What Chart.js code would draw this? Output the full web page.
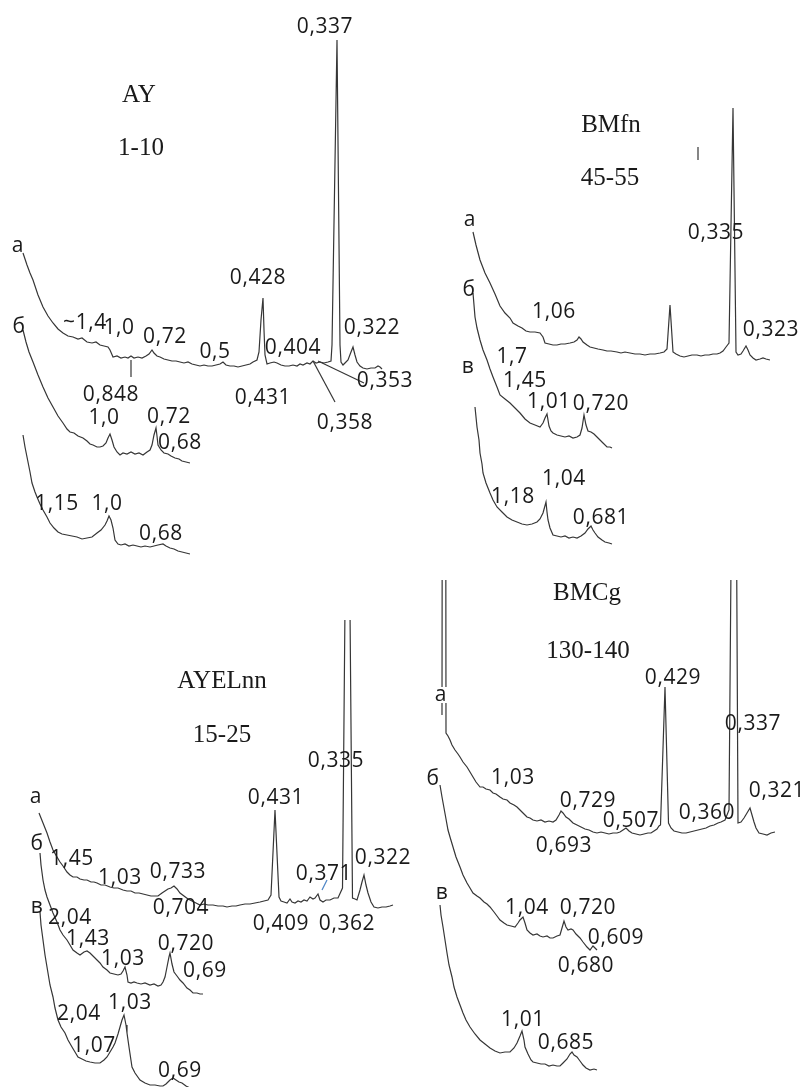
<!DOCTYPE html>
<html><head><meta charset="utf-8">
<script src="https://cdn.jsdelivr.net/npm/chart.js@4.4.1/dist/chart.umd.min.js"></script>
<style>
html,body{margin:0;padding:0;background:#fff;}
#wrap{position:relative;width:812px;height:1087px;overflow:hidden;background:#fff;}
#wrap canvas{position:absolute;}
</style>
</head><body><div id="wrap"></div>
<script>
// ===== DATA: [position, intensity above trace baseline] =====
// AY 1-10
const AY_a = [[23,115],[27,103],[30,95],[33,88],[38,73],[43,61],[48,52],[53,45],[58,39],[63,35],[68,32],[73,31],[78,29],[82,30],[87,26],[92,25],[96,26],[100,23],[104,22],[108,21],[110,18],[113,11],[117,12],[121,10],[125,11],[128,10],[131,12],[134,10],[138,11],[142,10],[146,12],[149,14],[152,18],[154,15],[157,12],[160,11],[164,9],[168,8],[172,7],[176,7],[180,6],[184,5],[188,6],[192,4],[196,3],[200,2],[204,3],[208,2],[212,2],[216,3],[220,4],[223,6],[226,3],[230,2],[234,2],[238,1],[242,2],[246,3],[250,4],[253,6],[257,8],[259,16],[261,48],[263,70],[264,38],[265,13],[267,4],[270,5],[274,6],[277,5],[281,3],[285,2],[289,2],[293,3],[297,2],[300,4],[303,3],[307,5],[310,4],[313,7],[316,5],[320,6],[324,5],[328,6],[331,7],[332,23],[337,328],[340,23],[341,6],[343,3],[345,5],[348,8],[351,16],[353,21],[355,13],[357,6],[360,2],[363,0],[367,-1],[371,0],[375,0],[378,2],[380,1],[382,-1]];
const AY_b = [[23,133],[26,121],[29,111],[33,101],[38,88],[43,76],[48,65],[53,56],[58,47],[63,40],[67,34],[70,31],[74,30],[78,27],[83,25],[87,22],[90,19],[93,18],[97,16],[100,16],[103,17],[106,20],[108,25],[110,29],[112,23],[114,16],[117,11],[120,8],[123,10],[127,9],[131,11],[135,9],[139,10],[143,8],[147,11],[150,13],[152,18],[154,28],[156,35],[157,27],[158,18],[161,13],[164,10],[168,9],[171,7],[175,5],[179,4],[182,2],[186,1],[190,0]];
const AY_v = [[23,119],[25,107],[27,97],[30,82],[32,71],[35,62],[37,57],[40,50],[43,44],[47,37],[50,31],[54,26],[58,22],[62,20],[67,19],[72,18],[77,17],[82,15],[87,16],[92,17],[97,21],[101,24],[105,29],[107,33],[109,38],[111,34],[113,26],[115,14],[118,10],[121,9],[125,10],[129,8],[133,9],[137,8],[141,7],[145,8],[150,7],[154,8],[158,9],[163,10],[166,8],[170,6],[174,5],[178,3],[182,2],[186,1],[190,0]];
// BMfn 45-55
const BMfn_a = [[473,126],[476,113],[480,98],[485,85],[490,75],[495,64],[500,52],[505,45],[510,40],[513,35],[518,32],[522,30],[526,27],[530,26],[535,26],[540,25],[543,21],[545,15],[549,14],[553,13],[557,13],[561,14],[565,14],[570,15],[574,16],[577,18],[579,21],[581,19],[583,16],[587,13],[590,11],[594,10],[598,9],[603,8],[607,7],[611,7],[617,6],[621,5],[625,6],[630,5],[635,4],[640,4],[645,3],[650,4],[655,4],[660,5],[664,6],[667,9],[670,53],[673,6],[676,4],[680,2],[684,1],[688,2],[692,3],[697,3],[701,2],[705,3],[709,3],[713,4],[717,4],[720,5],[723,7],[726,11],[729,15],[733,250],[736,6],[738,3],[741,4],[743,7],[746,12],[748,8],[750,3],[753,0],[756,-2],[760,-1],[763,0],[766,-1],[770,-2]];
const BMfn_b = [[473,155],[474,143],[475,131],[477,120],[480,108],[483,98],[487,88],[490,79],[493,71],[497,61],[500,53],[505,49],[510,45],[515,40],[520,35],[525,29],[530,25],[535,23],[540,21],[543,25],[545,30],[547,34],[549,22],[551,17],[553,15],[557,13],[561,12],[565,11],[569,12],[573,10],[577,11],[580,13],[582,20],[584,33],[586,23],[588,17],[591,16],[594,14],[597,11],[600,8],[603,5],[607,1],[610,1],[612,0]];
const BMfn_v = [[475,137],[476,127],[477,117],[479,104],[480,91],[482,80],[483,71],[486,61],[490,51],[493,44],[497,37],[502,32],[507,27],[512,24],[517,22],[522,20],[527,19],[532,20],[537,22],[540,25],[543,31],[546,42],[547,32],[548,24],[550,16],[553,9],[557,8],[561,7],[565,8],[569,6],[573,7],[577,6],[581,8],[585,11],[588,15],[591,18],[593,14],[595,11],[598,7],[602,4],[605,2],[609,1],[612,0]];
// AYELnn 15-25
const AYEL_a = [[39,94],[43,84],[47,74],[50,65],[53,57],[57,50],[60,45],[63,41],[67,35],[70,32],[73,30],[77,30],[80,28],[84,27],[87,27],[91,25],[94,25],[97,24],[101,22],[105,22],[110,20],[114,19],[118,19],[123,17],[127,16],[131,16],[135,14],[139,14],[143,13],[147,12],[151,11],[155,11],[158,11],[162,14],[165,16],[168,18],[171,19],[174,21],[177,18],[180,14],[184,11],[188,8],[192,6],[196,4],[200,2],[204,3],[208,2],[213,2],[218,1],[223,1],[227,0],[232,1],[236,1],[240,2],[245,3],[250,3],[255,4],[260,5],[264,6],[268,7],[271,12],[275,97],[279,10],[281,6],[284,5],[287,4],[290,8],[292,5],[295,4],[298,6],[301,5],[304,7],[307,6],[310,10],[313,8],[315,9],[318,13],[320,7],[323,5],[326,7],[330,7],[334,9],[338,9],[342.5,19],[347.5,585],[352.5,9],[355,8],[357,7],[360,17],[362,25],[364,32],[366,22],[368,14],[371,5],[374,0],[378,-1],[382,0],[386,0],[390,1],[393,2]];
const AYEL_b = [[40,141],[41,129],[43,114],[45,104],[47,97],[50,89],[53,81],[57,72],[60,64],[63,59],[67,54],[70,49],[73,44],[77,41],[80,39],[84,42],[87,43],[90,41],[94,37],[97,34],[100,31],[103,27],[107,24],[110,21],[114,20],[118,19],[121,20],[123,23],[125,27],[127,19],[128,12],[131,11],[134,12],[137,11],[141,10],[145,11],[150,9],[154,10],[158,8],[161,9],[163,12],[165,17],[167,27],[169,37],[170,41],[172,30],[174,22],[177,18],[180,14],[183,11],[187,6],[190,4],[193,1],[197,1],[200,0],[203,0]];
const AYEL_v = [[40,175],[41,162],[43,147],[45,132],[48,114],[50,102],[53,90],[55,79],[58,67],[61,60],[65,54],[68,47],[72,40],[75,35],[78,30],[82,28],[86,26],[90,25],[95,24],[100,24],[104,27],[107,30],[110,35],[113,40],[115,44],[118,53],[120,60],[122,67],[124,72],[126,62],[127,54],[129,40],[132,20],[135,14],[140,7],[145,4],[150,2],[155,2],[160,1],[163,1],[166,3],[170,7],[173,9],[176,7],[179,5],[182,4],[186,1],[190,-1]];
// BMCg 130-140
const BMCg_a = [[442,120],[444,2000],[446,102],[448,99],[450,95],[452,90],[455,85],[458,81],[460,78],[463,73],[467,68],[470,63],[473,58],[476,53],[480,48],[483,48],[486,46],[490,45],[493,42],[496,41],[500,38],[503,36],[507,35],[510,32],[514,30],[517,28],[520,25],[523,22],[527,18],[530,17],[533,15],[537,14],[541,15],[545,13],[549,14],[553,13],[556,15],[559,20],[561,24],[563,22],[566,18],[569,16],[573,12],[577,10],[581,8],[585,6],[589,5],[593,3],[597,2],[601,3],[605,2],[609,1],[613,2],[617,2],[620,3],[623,5],[626,7],[629,4],[632,2],[636,1],[640,0],[644,1],[648,2],[651,2],[654,4],[657,6],[659,9],[660.5,10],[665,148],[668.5,12],[671,7],[674,4],[678,3],[682,2],[686,2],[690,3],[694,4],[698,5],[702,6],[706,7],[710,9],[714,10],[718,12],[721,13],[725,15],[729,25],[734.5,700],[738,12],[741,13],[744,17],[747,22],[750,27],[752,20],[754,13],[756,7],[759,2],[763,1],[767,0],[771,2],[775,3]];
const BMCg_b = [[440,165],[442,153],[444,142],[446,131],[448,120],[450,113],[453,103],[456,93],[460,83],[463,75],[467,67],[470,62],[473,57],[477,54],[480,52],[484,48],[487,46],[490,43],[494,38],[497,34],[500,30],[504,27],[507,25],[511,24],[515,23],[518,27],[520,30],[523,33],[525,27],[527,20],[530,17],[533,15],[537,16],[540,14],[543,13],[547,14],[550,12],[553,12],[557,14],[560,15],[562,22],[564,29],[566,23],[568,20],[571,21],[573,20],[576,16],[580,12],[583,8],[587,3],[590,0],[593,4],[595,2],[597,0]];
const BMCg_v = [[440,165],[441,155],[443,143],[445,130],[447,117],[449,105],[452,93],[454,83],[457,73],[460,65],[463,57],[466,50],[470,43],[475,36],[480,30],[485,26],[490,22],[495,19],[500,17],[505,18],[510,18],[514,22],[517,27],[520,34],[522,39],[524,30],[525,23],[528,16],[531,10],[533,8],[537,7],[541,6],[545,6],[549,4],[553,5],[557,4],[560,4],[563,7],[567,11],[570,16],[572,18],[574,15],[577,13],[580,9],[583,5],[586,2],[590,0],[594,1],[597,0]];

// ===== TEXT (peak labels: [text, x, y]) =====
const AY_titles = [["AY",139,102],["1-10",141,155]];
const AY_labels = [["0,337",325,25],["а",18,246],["б",19,325],["~1,4",85,321],["1,0",119,326],["0,72",165,335],["0,5",215,350],["0,428",258,276],["0,404",293,346],["0,322",372,326],["0,848",111,393],["0,431",263,396],["0,358",345,421],["0,353",385,379],["1,0",104,416],["0,72",169,415],["0,68",180,441],["1,15",57,502],["1,0",107,502],["0,68",161,532]];
const BMfn_titles = [["BMfn",611,132],["45-55",610,185]];
const BMfn_labels = [["а",470,220],["0,335",716,231],["б",469,288],["1,06",554,310],["0,323",771,328],["1,7",512,355],["в",468,367],["1,45",525,379],["1,01",549,400],["0,720",601,402],["1,04",564,477],["1,18",513,495],["0,681",601,516]];
const AYEL_titles = [["AYELnn",222,688],["15-25",222,742]];
const AYEL_labels = [["0,335",336,759],["0,431",276,796],["а",36,797],["б",37,842],["1,45",72,857],["1,03",120,876],["0,733",178,870],["0,704",181,906],["0,409",281,922],["0,362",347,922],["0,371",324,872],["0,322",383,856],["в",37,907],["2,04",70,916],["1,43",88,937],["1,03",123,957],["0,720",186,942],["0,69",205,969],["2,04",79,1012],["1,03",130,1001],["1,07",94,1044],["0,69",180,1069]];
const BMCg_titles = [["BMCg",587,600],["130-140",588,658]];
const BMCg_labels = [["0,429",673,676],["а",441,695],["0,337",753,722],["б",433,777],["1,03",513,776],["0,729",588,799],["0,321",777,789],["0,507",631,819],["0,360",707,811],["0,693",564,844],["в",442,893],["1,04",527,906],["0,720",588,906],["0,609",616,936],["0,680",586,964],["1,01",523,1018],["0,685",566,1041]];

// ===== LAYOUT =====
const LINE = '#363636', INK = '#1a1a1a';
const panels = [
  {box:[0,0,430,600], traces:[[AY_a,368],[AY_b,463],[AY_v,554]], titles:AY_titles, labels:AY_labels,
   leaders:[[[131,360],[131,377],LINE],[[313,361],[335,402],LINE],[[318,361],[364,383],LINE]], bgLabels:[]},
  {box:[430,0,382,580], traces:[[BMfn_a,358],[BMfn_b,448],[BMfn_v,544]], titles:BMfn_titles, labels:BMfn_labels,
   leaders:[[[698,147],[698,160],LINE]], bgLabels:[]},
  {box:[0,620,420,467], traces:[[AYEL_a,907],[AYEL_b,994],[AYEL_v,1087]], titles:AYEL_titles, labels:AYEL_labels,
   leaders:[[[322,890],[327,880],'#4f86c6']], bgLabels:[]},
  {box:[420,580,392,507], traces:[[BMCg_a,835],[BMCg_b,950],[BMCg_v,1070]], titles:BMCg_titles, labels:BMCg_labels,
   leaders:[], bgLabels:["а"]}
];

function makeTextPlugin(p){
  return {
    id:'panelText',
    afterDatasetsDraw(chart){
      const ctx = chart.ctx, xs = chart.scales.x, ys = chart.scales.y;
      ctx.save();
      ctx.fillStyle = INK;
      ctx.textAlign = 'center';
      ctx.textBaseline = 'alphabetic';
      ctx.font = '25px "Liberation Serif", "Times New Roman", serif';
      for (const [t,x,y] of p.titles) ctx.fillText(t, xs.getPixelForValue(x), ys.getPixelForValue(y));
      ctx.font = '21px "Open Sans", "Noto Sans", sans-serif';
      if ('letterSpacing' in ctx) ctx.letterSpacing = '0.6px';
      for (const [t,x,y] of p.labels) {
        const small = (t === 'а' || t === 'в');
        const px = xs.getPixelForValue(x), py = ys.getPixelForValue(y);
        if (p.bgLabels.includes(t)) {
          ctx.fillStyle = '#fff';
          ctx.fillRect(px-7, py-8, 14, 16);
          ctx.fillStyle = INK;
        }
        ctx.fillText(t, px, py + (small ? 5.7 : 7.5));
      }
      ctx.restore();
    }
  };
}

const wrap = document.getElementById('wrap');
panels.forEach(p => {
  const [left, top, w, h] = p.box;
  const cv = document.createElement('canvas');
  cv.width = w; cv.height = h;
  cv.style.left = left + 'px'; cv.style.top = top + 'px';
  cv.style.width = w + 'px'; cv.style.height = h + 'px';
  wrap.appendChild(cv);
  const datasets = p.traces.map(([pts, base]) => ({
    data: pts.map(([x, I]) => ({x: x, y: base - I})),
    showLine: true, borderColor: LINE, borderWidth: 1.2, pointRadius: 0, fill: false, tension: 0
  }));
  p.leaders.forEach(([a, b, col]) => datasets.push({
    data: [{x:a[0], y:a[1]}, {x:b[0], y:b[1]}],
    showLine: true, borderColor: col, borderWidth: 1.2, pointRadius: 0, fill: false
  }));
  new Chart(cv, {
    type: 'scatter',
    data: {datasets},
    options: {
      responsive: false, animation: false, devicePixelRatio: 1,
      layout: {padding: 0},
      scales: {
        x: {type: 'linear', display: false, min: left, max: left + w},
        y: {type: 'linear', display: false, min: top, max: top + h, reverse: true}
      },
      plugins: {legend: {display: false}, tooltip: {enabled: false}, title: {display: false}},
      events: []
    },
    plugins: [makeTextPlugin(p)]
  });
});
</script>
</body></html>
